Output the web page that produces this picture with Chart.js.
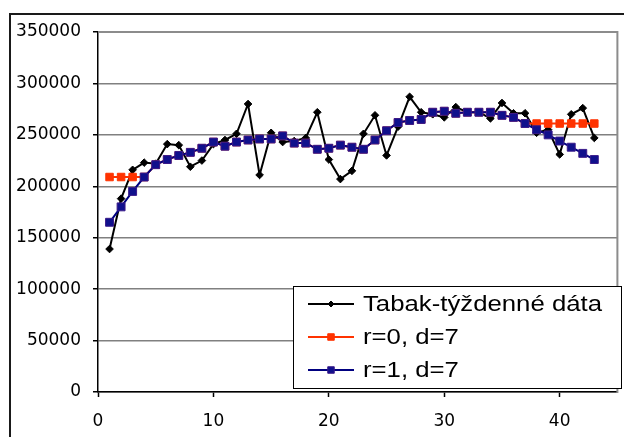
<!DOCTYPE html>
<html>
<head>
<meta charset="utf-8">
<script src="https://cdn.jsdelivr.net/npm/chart.js@4/dist/chart.umd.min.js"></script>
<style>
html,body{margin:0;padding:0;background:#fff;overflow:hidden}
#wrap{width:624px;height:437px;position:relative}
</style>
</head>
<body>
<div id="wrap"><canvas id="c" width="624" height="437"></canvas></div>
<script>
// ---- data ----
const weeks = [1,2,3,4,5,6,7,8,9,10,11,12,13,14,15,16,17,18,19,20,21,22,23,24,25,26,27,28,29,30,31,32,33,34,35,36,37,38,39,40,41,42,43];
const tabak = [139000,188000,216000,223000,222000,241000,240000,219000,225000,241000,245000,251000,280000,211000,252000,243000,244000,247000,272000,226000,207000,215000,251000,269000,230000,258000,287000,272000,270000,267000,277000,272000,272000,266000,281000,271000,271000,252000,255000,231000,270000,276000,247000];
const r0d7 = [209000,209000,209000,209000,221000,226000,230000,233000,237000,243000,239000,243000,245000,246000,246000,249000,242000,242000,236000,237000,240000,238000,236000,245000,254000,262000,264000,265000,272000,273000,271000,272000,272000,272000,269000,267000,261000,261000,261000,261000,261000,261000,261000];
const r1d7 = [165000,180000,195000,209000,221000,226000,230000,233000,237000,243000,239000,243000,245000,246000,246000,249000,242000,242000,236000,237000,240000,238000,236000,245000,254000,262000,264000,265000,272000,273000,271000,272000,272000,272000,269000,267000,261000,255000,250000,244000,238000,232000,226000];
const seriesLabels = ['Tabak-týždenné dáta', 'r=0, d=7', 'r=1, d=7'];
const yTickValues = [0,50000,100000,150000,200000,250000,300000,350000];
const xTickValues = [0,10,20,30,40];
const xRange = [0,45];

const pts = arr => weeks.map((w,i)=>({x:w, y:arr[i]}));

Chart.defaults.font.family = '"DejaVu Sans", sans-serif';
Chart.defaults.color = '#000';

const framePlugin = {
  id:'frame',
  beforeDraw(chart){
    const ctx = chart.ctx;
    ctx.save();
    ctx.fillStyle = '#fff';
    ctx.fillRect(0,0,chart.width,chart.height);
    ctx.strokeStyle = '#1a1a1a';
    ctx.lineWidth = 2;
    ctx.beginPath();
    ctx.moveTo(10, chart.height+2);
    ctx.lineTo(10, 14);
    ctx.lineTo(chart.width+2, 14);
    ctx.stroke();
    ctx.restore();
  },
  beforeDatasetsDraw(chart){
    const ctx = chart.ctx, a = chart.chartArea;
    ctx.save();
    ctx.strokeStyle = '#8c8c8c';
    ctx.lineWidth = 2;
    ctx.beginPath();
    ctx.moveTo(a.left, a.top);
    ctx.lineTo(a.right, a.top);
    ctx.lineTo(a.right, a.bottom+1);
    ctx.stroke();
    ctx.restore();
  }
};

function drawMarker(ctx, style, r, x, y, fill, stroke){
  ctx.fillStyle = fill; ctx.strokeStyle = stroke; ctx.lineWidth = 1;
  ctx.beginPath();
  if (style === 'rectRot'){
    ctx.moveTo(x, y-r); ctx.lineTo(x+r, y); ctx.lineTo(x, y+r); ctx.lineTo(x-r, y); ctx.closePath();
  } else {
    const s = r*Math.SQRT1_2;
    ctx.rect(x-s, y-s, 2*s, 2*s);
  }
  ctx.fill(); ctx.stroke();
}

const legendPlugin = {
  id:'boxLegend',
  afterDraw(chart){
    const ctx = chart.ctx;
    ctx.save();
    const L=293.5, T=286.5, R=621.5, B=388.5;
    ctx.fillStyle='#fff';
    ctx.fillRect(L,T,R-L,B-T);
    ctx.strokeStyle='#000'; ctx.lineWidth=1;
    ctx.strokeRect(L,T,R-L,B-T);
    chart.data.datasets.forEach((ds,i)=>{
      const y = 304 + i*33;
      ctx.strokeStyle = ds.borderColor; ctx.lineWidth = ds.borderWidth;
      ctx.beginPath(); ctx.moveTo(308,y); ctx.lineTo(354,y); ctx.stroke();
      drawMarker(ctx, ds.pointStyle, ds.pointStyle==='rectRot'?3:4.6, 331, y, ds.pointBackgroundColor, ds.pointBorderColor);
      ctx.save();
      ctx.fillStyle='#000';
      ctx.font = '22px "Liberation Sans", Arial, sans-serif';
      ctx.textBaseline='middle'; ctx.textAlign='left';
      ctx.translate(363, y+1);
      ctx.scale(1.17, 1);
      ctx.fillText(ds.label, 0, 0);
      ctx.restore();
    });
    ctx.restore();
  }
};

new Chart(document.getElementById('c'), {
  type:'line',
  data:{
    datasets:[
      {label:seriesLabels[0], data:pts(tabak), borderColor:'#000', backgroundColor:'#000', borderWidth:2,
       pointStyle:'rectRot', pointRadius:3.8, pointBackgroundColor:'#000', pointBorderColor:'#000', pointBorderWidth:1, order:2},
      {label:seriesLabels[1], data:pts(r0d7), borderColor:'#ff3300', backgroundColor:'#ff3300', borderWidth:2,
       pointStyle:'rect', pointRadius:5.3, pointBackgroundColor:'#ff3300', pointBorderColor:'#ff3300', pointBorderWidth:1, order:1},
      {label:seriesLabels[2], data:pts(r1d7), borderColor:'#000080', backgroundColor:'#000080', borderWidth:2,
       pointStyle:'rect', pointRadius:5.6, pointBackgroundColor:'#10108c', pointBorderColor:'#3a1a8a', pointBorderWidth:1, order:0}
    ]
  },
  options:{
    responsive:false, animation:false, devicePixelRatio:1,
    layout:{padding:{top:32,right:3,left:0,bottom:0}},
    plugins:{legend:{display:false}, tooltip:{enabled:false}},
    elements:{line:{tension:0}},
    scales:{
      x:{type:'linear', min:xRange[0], max:xRange[1],
         afterFit(s){ s.height = 45; },
         afterBuildTicks(s){ s.ticks = xTickValues.map(v=>({value:v})); },
         ticks:{font:{size:17}, padding:14, maxRotation:0, autoSkip:false, color:'#000'},
         grid:{drawOnChartArea:false, drawTicks:true, tickLength:5, tickColor:'#000', tickWidth:1.5},
         border:{color:'#000', width:1.5}},
      y:{type:'linear', min:yTickValues[0], max:yTickValues[yTickValues.length-1],
         afterFit(s){ s.width = 98; },
         afterBuildTicks(s){ s.ticks = yTickValues.map(v=>({value:v})); },
         ticks:{font:{size:17}, padding:12, color:'#000', callback:v=>String(v)},
         grid:{color:'#808080', lineWidth:1.5, drawTicks:true, tickLength:5, tickColor:'#000', tickWidth:1.5},
         border:{color:'#000', width:1.5}}
    }
  },
  plugins:[framePlugin, legendPlugin]
});
</script>
</body>
</html>
